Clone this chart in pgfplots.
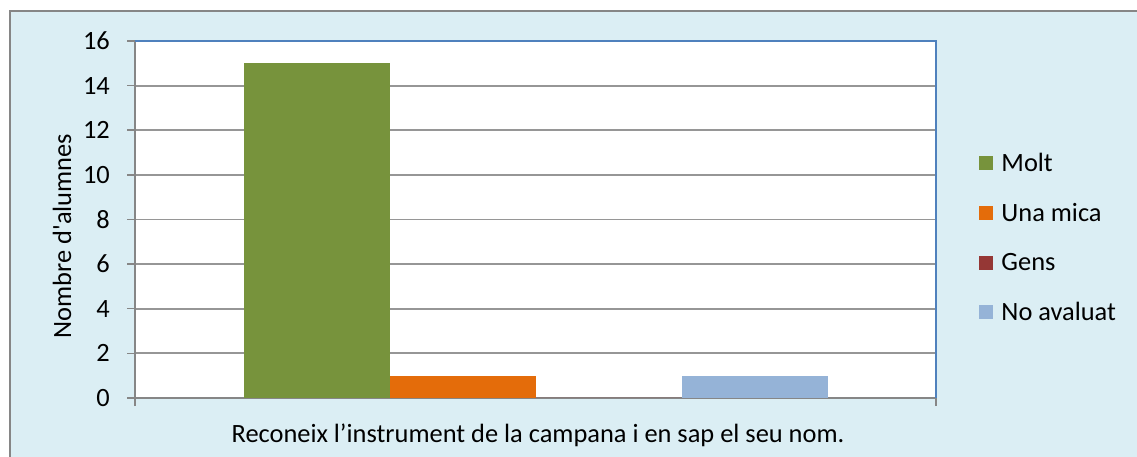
\documentclass[border=0pt]{standalone}
\usepackage{fontspec}
\setmainfont{Carlito}
\usepackage{pgfplots}
\pgfplotsset{compat=1.18}
\definecolor{bgblue}{HTML}{DBEEF4}
\definecolor{cMolt}{HTML}{77933C}
\definecolor{cUna}{HTML}{E46C0A}
\definecolor{cGens}{HTML}{953735}
\definecolor{cNo}{HTML}{95B3D7}
\definecolor{axgray}{HTML}{868686}
\definecolor{gridgray}{HTML}{969696}
\definecolor{axblue}{HTML}{4F81BD}
\newcommand{\cf}{\fontsize{26.4bp}{32bp}\selectfont}
\begin{document}
\begin{tikzpicture}
\useasboundingbox (0,0) rectangle (1137bp,457bp);
\fill[white] (0,0) rectangle (1137bp,457bp);
\fill[bgblue] (10bp,0) rectangle (1137bp,446bp);
\draw[axgray,line width=1.5bp] (10bp,0) -- (10bp,446bp) -- (1137bp,446bp);
\begin{axis}[
  at={(135bp,59bp)}, anchor=south west,
  scale only axis, width=801bp, height=357bp,
  ybar=0pt, bar width=146bp,
  xmin=-0.5, xmax=0.5, ymin=0, ymax=16,
  ytick={0,2,...,16},
  xtick={-0.5,0.5}, xticklabels={},
  ytick pos=left, xtick pos=bottom,
  tick align=outside, major tick length=8bp,
  tick style={axgray,line width=1.5bp},
  axis line style={axgray,line width=1.5bp},
  ymajorgrids, grid style={gridgray,line width=1.8bp},
  axis background/.style={fill=white},
  /pgf/number format/assume math mode=true,
  ticklabel style={font=\cf},
  yticklabel style={inner sep=0pt, xshift=-17bp},
  legend style={draw=none, fill=none, at={(1.054,0.693)}, anchor=north west,
    font=\cf, row sep=26.5bp, inner sep=0pt, cells={anchor=west},
    /tikz/every odd column/.append style={column sep=6bp}},
  legend image code/.code={\fill[#1] (0bp,-7bp) rectangle (14bp,7bp);},
  every axis plot/.append style={draw=none},
  clip=false,
  extra description/.code={
    \draw[axblue,line width=1.5bp] (rel axis cs:0,1) -- (rel axis cs:1,1) -- (rel axis cs:1,0);
  },
]
\addplot[fill=cMolt] coordinates {(0,15)};
\addplot[fill=cUna] coordinates {(0,1)};
\addplot[fill=cGens] coordinates {(0,0)};
\addplot[fill=cNo] coordinates {(0,1)};
\legend{Molt,Una mica,Gens,No avaluat}
\end{axis}
\node[font=\cf] at (538bp,22bp) {Reconeix l’instrument de la campana i en sap el seu nom.};
\node[font=\cf,rotate=90] at (62bp,221bp) {Nombre d\textquotesingle alumnes};
\end{tikzpicture}
\end{document}
